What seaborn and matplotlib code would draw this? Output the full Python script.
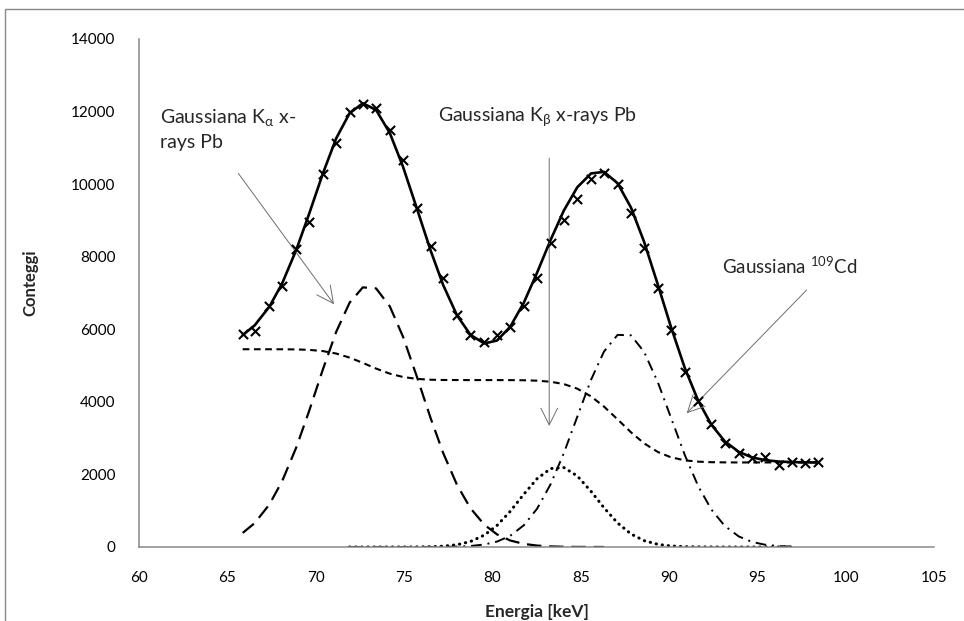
import matplotlib
matplotlib.use("Agg")
import matplotlib.pyplot as plt
import seaborn as sns
from matplotlib.patches import Rectangle

# Measured spectrum (energy in keV, counts per channel)
energy = [65.87, 66.55, 67.38, 68.10, 68.90, 69.63, 70.41, 71.16, 71.92, 72.67,
          73.42, 74.20, 74.94, 75.72, 76.51, 77.22, 78.00, 78.76, 79.55, 80.27,
          81.01, 81.78, 82.53, 83.30, 84.05, 84.81, 85.59, 86.32, 87.09, 87.85,
          88.59, 89.37, 90.10, 90.90, 91.65, 92.40, 93.16, 93.95, 94.70, 95.43,
          96.22, 96.95, 97.71, 98.43]
counts = [5862, 5953, 6633, 7201, 8212, 8965, 10271, 11125, 11996, 12200,
          12090, 11492, 10665, 9334, 8295, 7405, 6394, 5842, 5658, 5842,
          6071, 6650, 7405, 8370, 9012, 9582, 10142, 10299, 10004, 9196,
          8248, 7129, 5980, 4831, 4032, 3381, 2858, 2582, 2461, 2488,
          2260, 2351, 2323, 2351]

# Total fit evaluated on the channel energies
fit_total = [5838, 6110, 6623, 7261, 8186, 9182, 10296, 11260, 11954, 12229,
             12044, 11405, 10486, 9342, 8166, 7216, 6385, 5847, 5609, 5692,
             6068, 6731, 7557, 8464, 9275, 9915, 10295, 10339, 10025, 9353,
             8411, 7228, 6081, 4925, 4035, 3369, 2911, 2622, 2470, 2393,
             2355, 2340, 2333, 2331]

# Step-like background under the peaks
background = [5450, 5450, 5450, 5449, 5445, 5433, 5399, 5332, 5220, 5074,
              4917, 4777, 4686, 4633, 4610, 4603, 4601, 4600, 4600, 4600,
              4599, 4595, 4584, 4554, 4490, 4363, 4150, 3870, 3517, 3161,
              2857, 2618, 2474, 2388, 2352, 2337, 2332, 2330, 2330, 2330,
              2330, 2330, 2330, 2330]

# Gaussian components
ka_energy = energy[:28]
ka_counts = [388, 660, 1173, 1812, 2741, 3749, 4897, 5927, 6733, 7155,
             7127, 6628, 5800, 4707, 3547, 2588, 1712, 1070, 612, 346,
             180, 86, 39, 16, 6, 2, 1, 0]
kb_energy = energy[8:42]
kb_counts = [0, 0, 0, 0, 0, 2, 8, 22, 62, 150, 328, 596, 981, 1452, 1881, 2162,
             2189, 1957, 1532, 1082, 661, 359, 175, 73, 28, 9, 3, 1, 0, 0, 0, 0, 0, 0]
cd_energy = energy[8:42]
cd_counts = [0, 0, 0, 0, 0, 0, 1, 3, 10, 27, 69, 150, 308, 598, 1053, 1731,
             2591, 3592, 4612, 5387, 5846, 5833, 5379, 4538, 3579, 2528, 1680,
             1031, 579, 291, 140, 63, 25, 10]

x_ticks = list(range(60, 106, 5))
y_ticks = list(range(0, 14001, 2000))

sns.set_theme(style="white")
plt.rcParams["font.family"] = ["Lato", "DejaVu Sans"]
plt.rcParams["mathtext.fontset"] = "custom"
plt.rcParams["mathtext.rm"] = "Lato"
plt.rcParams["mathtext.it"] = "Lato:italic"
plt.rcParams["mathtext.bf"] = "Lato:bold"

fig = plt.figure(figsize=(9.64, 6.21), dpi=100)
ax = fig.add_axes([139/964, 1-547/621, 795/964, 508/621])

def curve(xs, ys, lw, dashes=None, cap=None):
    sns.lineplot(x=xs, y=ys, ax=ax, color="black", lw=lw, sort=False, estimator=None)
    line = ax.lines[-1]
    if dashes is not None:
        line.set_dashes(dashes)
    if cap is not None:
        line.set_dash_capstyle(cap)

curve(energy, fit_total, 1.9)
curve(ka_energy, ka_counts, 1.6, (6.5, 3.5))
curve(energy, background, 1.5, (3.2, 2.2))
curve(kb_energy, kb_counts, 2.2, (0.1, 1.9), "round")
curve(cd_energy, cd_counts, 1.4, (5.5, 3, 1, 3))
sns.scatterplot(x=energy, y=counts, ax=ax, marker="x", s=44, color="black",
                linewidth=1.5, zorder=5)

ax.set_xlim(60, 105)
ax.set_ylim(0, 14000)
ax.set_xticks(x_ticks)
ax.set_yticks(y_ticks)
for s in ["top", "right"]:
    ax.spines[s].set_visible(False)
for s in ["left", "bottom"]:
    ax.spines[s].set_color("#898989")
    ax.spines[s].set_linewidth(1.1)
ax.tick_params(length=0, pad=17, labelsize=11, colors="black")
ax.set_xlabel("Energia [keV]", fontsize=12.5, fontweight="bold")
ax.set_ylabel("Conteggi", fontsize=12, fontweight="bold")
ax.xaxis.set_label_coords(0.5, -0.112)
ax.yaxis.set_label_coords(-0.126, 0.52)

arrow = dict(arrowstyle="->,head_length=0.6,head_width=0.3", color="#6e6e6e", lw=0.7,
             mutation_scale=20, shrinkA=0, shrinkB=0)
fs = 14
ax.text(61.19, 11850, "Gaussiana K$_{\\mathrm{α}}$ x-", fontsize=fs, va="center", ha="left")
ax.text(61.19, 11134, "rays Pb", fontsize=fs, va="center", ha="left")
ax.annotate("", xy=(71.04, 6689), xytext=(65.62, 10298), arrowprops=arrow)
ax.text(76.92, 11850, "Gaussiana K$_{\\mathrm{β}}$ x-rays Pb", fontsize=fs, va="center", ha="left")
ax.annotate("", xy=(83.22, 3335), xytext=(83.22, 10720), arrowprops=arrow)
ax.text(93.0, 7744, "Gaussiana $^{109}$Cd", fontsize=13.5, va="center", ha="left")
ax.annotate("", xy=(91.0, 3685), xytext=(97.79, 7083), arrowprops=arrow)

# outer chart frame
fig.patches.append(Rectangle((5/964, -0.2), 1.2, 1.2 - 9/621, transform=fig.transFigure,
                             fill=False, edgecolor="#898989", lw=1.0, clip_on=False))
fig.savefig("out.png", dpi=100)
